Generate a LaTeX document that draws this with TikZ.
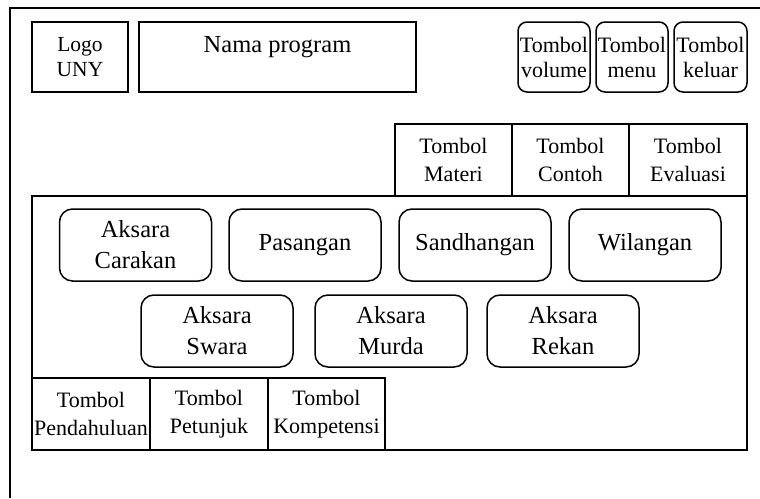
\documentclass[tikz,border=0pt]{standalone}
\usepackage{fontspec}
\setmainfont{Liberation Serif}

\begin{document}
\begin{tikzpicture}[x=1pt, y=-1pt,
    kotak/.style={draw, line width=1.5pt, inner sep=0pt, align=center, minimum height=70pt},
    tombol/.style={kotak, rounded corners=9pt, font=\fontsize{22}{25}\selectfont},
    menu/.style={kotak, minimum height=72pt, font=\fontsize{22}{28}\selectfont},
    aksara/.style={kotak, rounded corners=13pt, minimum width=152pt, minimum height=72pt, font=\fontsize{24.5}{31}\selectfont}]
    \useasboundingbox (0,0) rectangle (760,498);
    \draw [line width=2.2pt] (10,498) -- (10,8) -- (760,8);

    \node (logo) at (80,57) [kotak, minimum width=96pt, font=\fontsize{21.5}{25}\selectfont] {Logo\\UNY};
    \node (nama) at (277.5,57) [kotak, minimum width=277pt, font=\fontsize{24.5}{25}\selectfont] {Nama program\\~};

    \node (volume) at (554,57)   [tombol, minimum width=72pt] {Tombol\\volume};
    \node (menu)   at (632,57)   [tombol, minimum width=72pt] {Tombol\\menu};
    \node (keluar) at (710.5,57) [tombol, minimum width=73pt] {Tombol\\keluar};

    \node (materi)   at (453.5,160) [menu, minimum width=117pt] {Tombol\\Materi};
    \node (contoh)   at (570.5,160) [menu, minimum width=117pt] {Tombol\\Contoh};
    \node (evaluasi) at (688,160)   [menu, minimum width=118pt] {Tombol\\Evaluasi};

    \node (panel) at (389.5,323) [kotak, minimum width=715pt, minimum height=254pt] {};

    \node (carakan)    at (135.5,245) [aksara] {Aksara\\Carakan};
    \node (pasangan)   at (305,245)   [aksara] {Pasangan};
    \node (sandhangan) at (475,245)   [aksara] {Sandhangan};
    \node (wilangan)   at (645,245)   [aksara] {Wilangan};

    \node (swara) at (217,331) [aksara] {Aksara\\Swara};
    \node (murda) at (391,331) [aksara] {Aksara\\Murda};
    \node (rekan) at (563,331) [aksara] {Aksara\\Rekan};

    \node (pendahuluan) at (91,414)    [menu, minimum width=118pt] {Tombol\\Pendahuluan};
    \node (petunjuk)    at (209,414)   [menu, minimum width=118pt] {Tombol\\Petunjuk};
    \node (kompetensi)  at (326.5,414) [menu, minimum width=117pt] {Tombol\\Kompetensi};
\end{tikzpicture}
\end{document}
